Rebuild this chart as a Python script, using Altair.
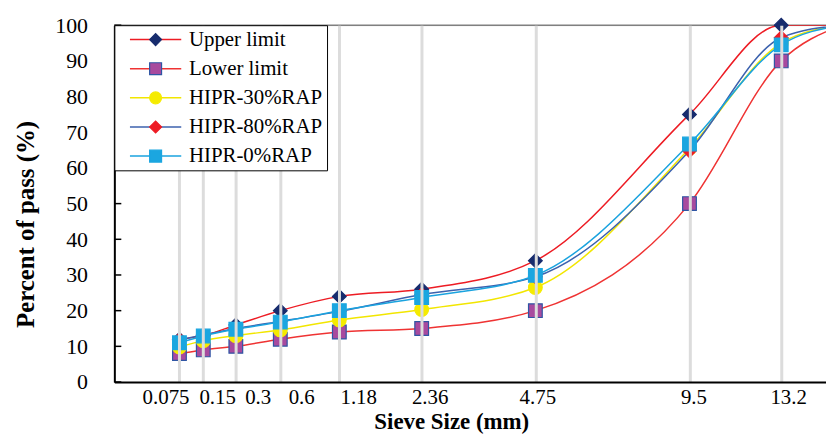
import altair as alt
import pandas as pd

# ---- data ----
sieve = [0.075, 0.15, 0.3, 0.6, 1.18, 2.36, 4.75, 9.5, 13.2, 16]
upper = [12, 13, 16, 20, 24, 26, 34, 75, 100, 100]
lower = [8, 9, 10, 12, 14, 15, 20, 50, 90, 100]
hipr30 = [9.8, 11.6, 13.0, 14.6, 17.4, 20.3, 26.5, 65.5, 95.0, 100]
hipr80 = [11.8, 13.2, 15.0, 17.0, 19.8, 24.5, 29.5, 64.8, 96.5, 100]
hipr0 = [11.0, 12.9, 14.8, 16.8, 20.0, 23.7, 29.9, 66.7, 94.5, 100]
series_names = ["Upper limit", "Lower limit", "HIPR-30%RAP", "HIPR-80%RAP", "HIPR-0%RAP"]
x_tick_values = [0.075, 0.15, 0.3, 0.6, 1.18, 2.36, 4.75, 9.5, 13.2]
y_tick_values = [0, 10, 20, 30, 40, 50, 60, 70, 80, 90, 100]

# ---- styles ----
line_colors = ["#ed1c24", "#ef3333", "#f2e600", "#3c62ae", "#1aa3df"]
marker_fill = ["#172c6e", "#a84a9e", "#f5eb00", "#ee1c25", "#1ba6e0"]
marker_stroke = ["#172c6e", "#2f55a4", "#f5eb00", "#ee1c25", "#1ba6e0"]
marker_shape = ["diamond", "square", "circle", "diamond", "square"]
label_shift = [-14, 14, 22, 21, 19, 8, 2, 4, 7]
FONT = "Liberation Serif"
W, H = 716, 359

rows = []
for name, vals in zip(series_names, [upper, lower, hipr30, hipr80, hipr0]):
    for s, v in zip(sieve, vals):
        rows.append({"series": name, "sieve": s, "value": v, "order": series_names.index(name)})
df = pd.DataFrame(rows)
ticks_df = pd.DataFrame({"value": y_tick_values})

x_scale = alt.Scale(type="pow", exponent=0.45, domain=[0, 15.25], nice=False, zero=False)
y_scale = alt.Scale(domain=[0, 100], nice=False)

# conditional label offset to mimic the label placement of the source
cond = [{"test": f"datum.value == {v}", "value": d} for v, d in zip(x_tick_values, label_shift)]

x_axis = alt.Axis(
    values=x_tick_values, format=".3~f", title="Sieve Size (mm)",
    grid=True, gridColor="#dcdcdc", gridWidth=3, ticks=False,
    domainColor="black", domainWidth=2,
    labelFont=FONT, labelFontSize=21, labelColor="black", labelPadding=5,
    labelOverlap=False, labelFlush=False, labelBound=False,
    labelOffset={"condition": cond, "value": 0},
    titleFont=FONT, titleFontSize=23, titleFontWeight="bold", titleColor="black",
    titleX=339, titleY=47, titleBaseline="alphabetic", titleAlign="center",
    zindex=1,
)
y_axis = alt.Axis(
    values=y_tick_values, tickCount=11, title="Percent of pass (%)", grid=False, ticks=False,
    domainColor="black", domainWidth=2,
    labelFont=FONT, labelFontSize=22, labelColor="black", labelPadding=27,
    labelOverlap=False, labelFlush=False, labelBound=False,
    titleFont=FONT, titleFontSize=25, titleFontWeight="bold", titleColor="black",
    titlePadding=16, titleY=200, titleAlign="center",
)

NBSP = "\u00a0"
leg_common = dict(
    title=None, padding=4, rowPadding=7.3, symbolOffset=27, labelOffset=23,
    labelFont=FONT, labelFontSize=21, labelColor="black", symbolSize=144,
    labelExpr=f"datum.label + '{NBSP}{NBSP}{NBSP}{NBSP}'", labelLimit=400,
)

# line legend (data-driven domain, ordered by sort)
lines = alt.Chart(df).mark_line(interpolate="monotone", strokeWidth=1.5, clip=True).encode(
    x=alt.X("sieve:Q", scale=x_scale, axis=x_axis),
    y=alt.Y("value:Q", scale=y_scale, axis=y_axis),
    color=alt.Color("series:N", sort=series_names, scale=alt.Scale(range=line_colors),
                    legend=alt.Legend(orient="none", legendX=0, legendY=0,
                                      symbolType="M-4.3,0H4.3", symbolStrokeWidth=1.5,
                                      fillColor="white", strokeColor="black", zindex=2,
                                      **leg_common)),
    detail="order:O",
)

# marker legend (explicit domain shared by fill/stroke/shape so they merge)
pt_legend = alt.Legend(orient="top-left", offset=0, labelOpacity=0, symbolStrokeWidth=1.2,
                       zindex=3, **leg_common)
points = alt.Chart(df).transform_filter(alt.datum.sieve <= 13.2).mark_point(
    filled=True, size=190, strokeWidth=1.2, opacity=1
).encode(
    x=alt.X("sieve:Q", scale=x_scale),
    y=alt.Y("value:Q", scale=y_scale),
    fill=alt.Fill("series:N", scale=alt.Scale(domain=series_names, range=marker_fill), legend=pt_legend),
    stroke=alt.Stroke("series:N", scale=alt.Scale(domain=series_names, range=marker_stroke), legend=pt_legend),
    shape=alt.Shape("series:N", scale=alt.Scale(domain=series_names, range=marker_shape), legend=pt_legend),
    order=alt.Order("order:Q"),
)

ytick_rules = alt.Chart(ticks_df).mark_rule(color="black", strokeWidth=1.5).encode(
    y=alt.Y("value:Q", scale=y_scale),
    x=alt.value(0), x2=alt.value(7),
)

top_border = alt.Chart(pd.DataFrame({"a": [0]})).mark_rule(color="#808080", strokeWidth=1.5).encode(
    x=alt.value(0), x2=alt.value(W), y=alt.value(0),
)

chart = alt.layer(top_border, lines, points, ytick_rules).properties(
    width=W, height=H,
    padding={"left": 107, "top": 16, "right": 0, "bottom": 53},
    autosize=alt.AutoSizeParams(type="none"),
).configure_view(stroke=None).configure(font=FONT, background="white"
).configure_axisY(labelOverlap=False)

chart.save("out.html", embed_options={"renderer": "svg", "actions": False})
